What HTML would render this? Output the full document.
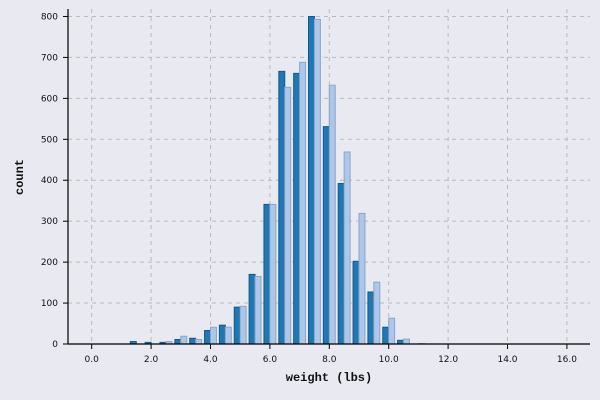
<!DOCTYPE html>
<html><head><meta charset="utf-8"><style>
html,body{margin:0;padding:0;background:#e9e9f1;}
svg{display:block}
.tick{font-family:"DejaVu Sans","Liberation Sans",sans-serif;font-size:9px;fill:#111}
.title{font-family:"Liberation Mono","DejaVu Sans Mono",monospace;font-size:12px;font-weight:bold;fill:#111}
</style></head><body>
<svg id="chart" width="600" height="400">
<rect width="600" height="400" fill="#e9e9f1"/>
<g id="grid"></g><g id="bars"></g><g id="axes"></g>
<text class="title" x="329" y="381" text-anchor="middle">weight (lbs)</text>
<text class="title" transform="translate(23,177) rotate(-90)" text-anchor="middle">count</text>
</svg>
<script>
const binCenters=[1.5,2.0,2.5,3.0,3.5,4.0,4.5,5.0,5.5,6.0,6.5,7.0,7.5,8.0,8.5,9.0,9.5,10.0,10.5,11.0];
const seriesA=[6,4,4,11,14,33,46,90,170,341,666,661,800,531,392,202,127,41,9,0];
const seriesB=[0,0,6,19,11,41,41,92,165,341,627,688,793,632,469,319,151,63,12,1];
const xTicks=[0,2,4,6,8,10,12,14,16];
const xTickLabels=["0.0","2.0","4.0","6.0","8.0","10.0","12.0","14.0","16.0"];
const yTicks=[0,100,200,300,400,500,600,700,800];
const NS="http://www.w3.org/2000/svg";
const X=v=>91.7+v*29.7;
const Y=v=>344-v*0.4094;
function mk(t,a,p){const e=document.createElementNS(NS,t);for(const k in a)e.setAttribute(k,a[k]);p.appendChild(e);return e;}
const grid=document.getElementById('grid'),bars=document.getElementById('bars'),axes=document.getElementById('axes');
xTicks.forEach((v,i)=>{
 const g=mk('line',{x1:X(v),x2:X(v),y1:9,y2:344,stroke:'#bbbbbb','stroke-dasharray':'4,4','stroke-width':1},grid);
 
 
 const t=mk('line',{x1:X(v),x2:X(v),y1:344,y2:349,stroke:'#000'},axes);
 
 
 const l=mk('text',{x:X(v),y:362,'text-anchor':'middle',class:'tick'},axes);l.textContent=xTickLabels[i];
 
 
});
yTicks.forEach(v=>{
 const g=mk('line',{x1:68,x2:590,y1:Y(v),y2:Y(v),stroke:'#bbbbbb','stroke-dasharray':'4,4','stroke-width':1},grid);
 
 
 const t=mk('line',{x1:63,x2:68,y1:Y(v),y2:Y(v),stroke:'#000'},axes);
 
 
 const l=mk('text',{x:58,y:Y(v)+3,'text-anchor':'end',class:'tick'},axes);l.textContent=v;
 
 
});
binCenters.forEach((c,i)=>{
 if(seriesA[i]>0){const r=mk('rect',{x:X(c-0.2),y:Y(seriesA[i]),width:X(c)-X(c-0.2),height:344-Y(seriesA[i]),fill:'#1f77b4',stroke:'#135a8c','stroke-width':1},bars);
 
 }
 if(seriesB[i]>0){const r=mk('rect',{x:X(c),y:Y(seriesB[i]),width:X(c+0.2)-X(c),height:344-Y(seriesB[i]),fill:'#aec7e8',stroke:'#8aa6c8','stroke-width':1},bars);
 
 }
});
const ya=mk('line',{x1:68,x2:68,y1:9,y2:344,stroke:'#000','stroke-width':1.2},axes);


const xa=mk('line',{x1:68,x2:590,y1:344,y2:344,stroke:'#000','stroke-width':1.2},axes);


</script>
</body></html>
